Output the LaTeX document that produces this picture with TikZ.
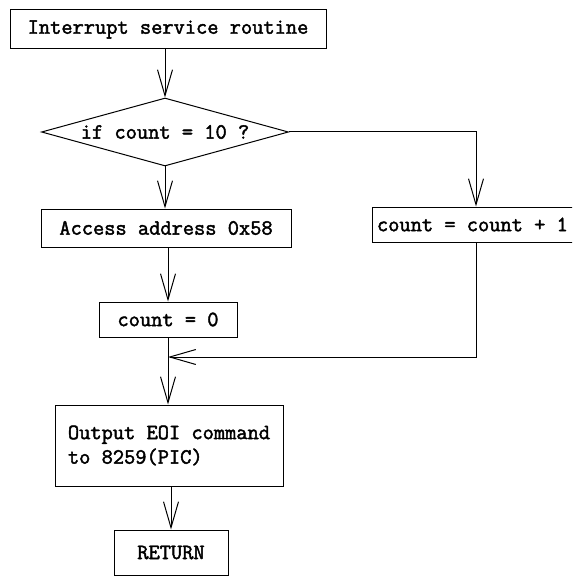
\documentclass[tikz,border=0pt]{standalone}
\usepackage{fontspec}
\newfontfamily\flowfont{Latin Modern Mono}[FakeBold=2]
\usetikzlibrary{shapes.geometric,arrows.meta}

\begin{document}
\begin{tikzpicture}[x=1pt,y=-1pt,
  every node/.style={font=\flowfont\fontsize{21.8}{24.5}\selectfont},
  box/.style={draw, line width=1pt, inner sep=0pt, rectangle},
  decision/.style={draw, line width=1pt, diamond, shape aspect=3.63, inner sep=0pt},
  flow/.style={line width=1pt, -{Straight Barb[length=26pt,width=15pt,line width=1pt]}},
  plain/.style={line width=1pt}]
  \clip (0,0) rectangle (572,577);
  \fill[white] (0,0) rectangle (572,577);

  % process blocks
  \node[box, minimum width=316pt, minimum height=39pt] (isr) at (168,29.5) {Interrupt service routine};
  \node[decision, minimum width=247pt, minimum height=68pt] (dec) at (165,132) {if count = 10 ?};
  \node[box, minimum width=250pt, minimum height=38pt] (acc) at (166,228) {Access address 0x58};
  \node[box, minimum width=208pt, minimum height=35pt, inner xsep=5pt] (inc) at (476,224.5) {\makebox[198pt][l]{count = count + 1}};
  \node[box, minimum width=138pt, minimum height=35pt] (zero) at (168,319.5) {count = 0};
  \node[box, minimum width=228pt, minimum height=81pt, align=left] (eoi) at (169,445.5) {Output EOI command\\to 8259(PIC)};
  \node[box, minimum width=114pt, minimum height=45pt] (ret) at (171,552.5) {RETURN};

  % join point of the two branches
  \coordinate (j) at (zero.south |- 0,357);

  % connectors
  \draw[flow] (isr.south -| dec.north) -- (dec.north);
  \draw[flow] (dec.south) -- (dec.south |- acc.north);
  \draw[flow] (dec.east) -| (inc.north);
  \draw[flow] (acc.south -| zero.north) -- (zero.north);
  \draw[plain] (zero.south) -- (j);
  \draw[flow] (j) -- (j |- eoi.north);
  \draw[flow] (inc.south) |- (j);
  \draw[flow] (eoi.south -| ret.north) -- (ret.north);
\end{tikzpicture}
\end{document}
